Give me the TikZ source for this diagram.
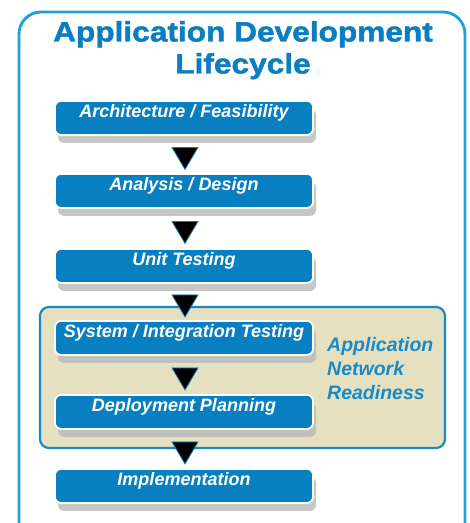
\documentclass[tikz,border=0pt]{standalone}
\usepackage{fontspec}
\setmainfont{Liberation Sans}
\newfontfamily\headfont{Liberation Sans}[FakeStretch=1.13, BoldFeatures={FakeBold=1.6}]
\usetikzlibrary{calc,shadows}

\definecolor{framecyan}{RGB}{27,160,216}
\definecolor{headblue}{RGB}{11,125,192}
\definecolor{stageblue}{RGB}{8,127,192}
\definecolor{panelfill}{RGB}{229,224,192}
\definecolor{panelblue}{RGB}{25,138,200}
\definecolor{arrowblue}{RGB}{20,120,190}

\tikzset{
    stage/.style={draw=white, line width=1.8pt, fill=stageblue, rounded corners=6pt,
        minimum width=258pt, text height=15pt, text depth=15pt, inner ysep=2pt,
        anchor=north, text=white, font=\fontsize{18}{20}\selectfont\bfseries\itshape,
        drop shadow={shadow xshift=3pt, shadow yshift=-8pt, fill=gray!55, opacity=0.8}},
    steparrow/.style={fill=black, draw=arrowblue, line width=0.8pt, line join=miter},
}

\begin{document}
\begin{tikzpicture}[x=1pt,y=-1pt]
    \useasboundingbox (0,0) rectangle (470,523);
    \draw[framecyan, line width=2.8pt, rounded corners=22pt] (19,12) rectangle (465,545);
    \node[headblue, font=\headfont\bfseries\fontsize{28}{32}\selectfont, align=center,
        anchor=north, inner sep=0pt] (title) at (243,21) {Application Development\\Lifecycle};

    % network readiness panel
    \node[draw=panelblue, line width=2.2pt, fill=panelfill, rounded corners=9pt,
        minimum width=405pt, minimum height=141pt, inner sep=0pt] (anr) at (242.5,377.5) {};
    \node[panelblue, font=\fontsize{19.5}{24}\selectfont\bfseries\itshape, align=left,
        anchor=north west, inner sep=0pt] (anrlabel) at (327,337) {Application\\Network\\Readiness};

    % stages
    \node[stage] (arch) at (184,100) {Architecture / Feasibility};
    \node[stage] (anal) at (184,173) {Analysis / Design};
    \node[stage] (unit) at (184,248) {Unit Testing};
    \node[stage] (sys) at (184,320) {System / Integration Testing};
    \node[stage] (dep) at (184,394) {Deployment Planning};
    \node[stage] (impl) at (184,468) {Implementation};

    \foreach \a/\b in {arch/anal, anal/unit, unit/sys, sys/dep, dep/impl} {
        \coordinate (m) at ($(\a.south)!0.5!(\b.north)+(1,4)$);
        \filldraw[steparrow] ($(m)+(-13,-11)$) -- ($(m)+(13,-11)$) -- ($(m)+(0,11)$) -- cycle;
    }
\end{tikzpicture}
\end{document}
